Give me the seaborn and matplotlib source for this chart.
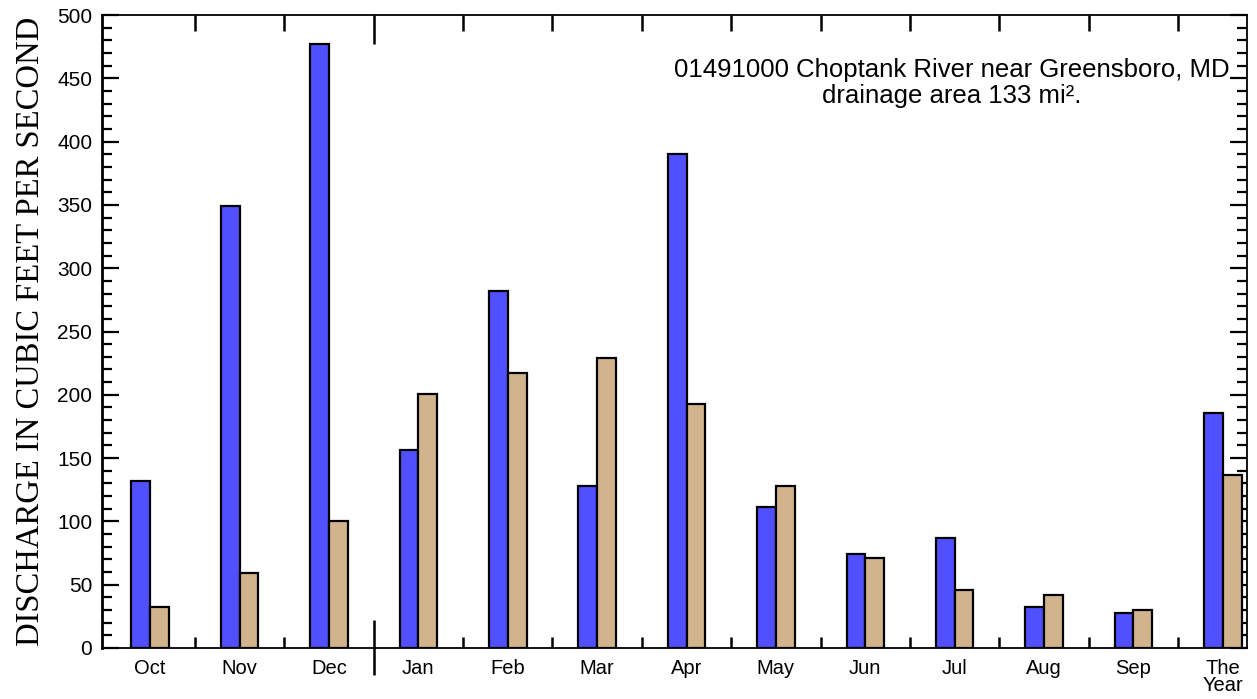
import pandas as pd
import seaborn as sns
import matplotlib.pyplot as plt
from matplotlib.ticker import MultipleLocator

months = ["Oct", "Nov", "Dec", "Jan", "Feb", "Mar", "Apr", "May", "Jun",
          "Jul", "Aug", "Sep", "The\nYear"]
blue_vals = [132, 349, 477, 156, 282, 128, 390, 111, 74, 87, 32, 28, 186]
tan_vals = [32, 59, 100, 201, 217, 229, 193, 128, 71, 46, 42, 30, 137]
series = ["Water year", "Period of record"]

df = pd.DataFrame({
    "month": months * 2,
    "cfs": blue_vals + tan_vals,
    "series": [series[0]] * len(months) + [series[1]] * len(months),
})

sns.set_style("ticks", {"text.color": "black", "axes.labelcolor": "black",
                        "xtick.color": "black", "ytick.color": "black",
                        "axes.edgecolor": "black"})
plt.rcParams["font.family"] = ["Liberation Sans", "DejaVu Sans"]

fig = plt.figure(figsize=(12.57, 6.99), dpi=100)
ax = fig.add_axes([0.0811, 0.073, 0.9109, 0.9055])

sns.barplot(data=df, x="month", y="cfs", hue="series", order=months,
            hue_order=series, palette=["#5050ff", "#d2b48c"], saturation=1,
            width=0.42, edgecolor="black", linewidth=1.6, legend=False, ax=ax)

ax.set_xlim(-0.54, 12.27)
ax.set_ylim(0, 500)
ax.set_xlabel("")
ax.set_ylabel("DISCHARGE IN CUBIC FEET PER SECOND", family="Liberation Serif",
              fontsize=23.5, labelpad=8)

# y axis ticks on both sides, inward
ax.yaxis.set_major_locator(MultipleLocator(50))
ax.yaxis.set_minor_locator(MultipleLocator(10))
ax.tick_params(axis="y", which="major", direction="in", length=12, width=1.6,
               left=True, right=True, labelsize=15, pad=7)
ax.tick_params(axis="y", which="minor", direction="in", length=7, width=1.6,
               left=True, right=True)
ax.tick_params(axis="x", which="major", length=0, labelsize=14.5, pad=8)
for lab in ax.get_xticklabels():
    lab.set_linespacing(0.85)
    lab.set_verticalalignment("top")

for s in ax.spines.values():
    s.set_linewidth(1.3)
ax.spines["left"].set_linewidth(2)

# month boundary marks
xt = ax.get_xaxis_transform()
bounds = [i + 0.5 for i in range(len(months) - 1)]
other = [b for b in bounds if b != 2.5]
ax.vlines(other, 0, 0.017, transform=xt, color="black", lw=1.8)
ax.vlines(other, 1 - 0.026, 1, transform=xt, color="black", lw=1.8)
ax.vlines([2.5], -0.043, 0.044, transform=xt, color="black", lw=1.8, clip_on=False)
ax.vlines([2.5], 1 - 0.045, 1, transform=xt, color="black", lw=1.8)

ax.text(0.742, 0.932, "01491000 Choptank River near Greensboro, MD\n"
        "drainage area 133 mi\u00b2.", transform=ax.transAxes, ha="center",
        va="top", fontsize=18.5, linespacing=1.1)

plt.savefig("out.png", dpi=100)
